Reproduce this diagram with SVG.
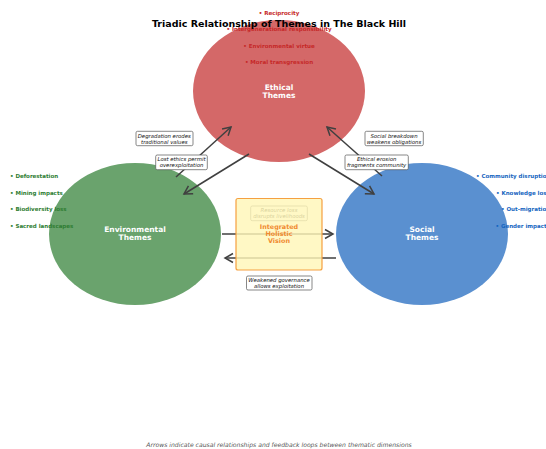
<svg xmlns="http://www.w3.org/2000/svg" width="546" height="449" viewBox="0 0 546 449">
<defs>
<marker id="arr" markerUnits="userSpaceOnUse" markerWidth="12" markerHeight="12" refX="9" refY="5" orient="auto" viewBox="0 0 12 10">
<path d="M1,0.5 L9,5 L1,9.5" fill="none" stroke="#404040" stroke-width="1.5"/>
</marker>
</defs>
<style>
text{font-family:"DejaVu Sans","Liberation Sans",sans-serif}
.title{font-size:9.5px;font-weight:bold;fill:#000;text-anchor:middle}
.nl{font-size:7.5px;font-weight:bold;fill:#fff;text-anchor:middle}
.be{font-size:5.55px;font-weight:bold;fill:#c62828;text-anchor:middle}
.bg{font-size:5.5px;font-weight:bold;fill:#2e7d32}
.bs{font-size:5.5px;font-weight:bold;fill:#1565c0;text-anchor:start}
.lb{fill:#fff;stroke:#555;stroke-width:0.7}
.lt{font-size:5.35px;font-style:italic;fill:#111;text-anchor:middle}
.conn{stroke:#404040;stroke-width:1.5;fill:none}
.foot{font-size:6.1px;font-style:italic;fill:#555;text-anchor:middle}
.iv{font-size:6.4px;font-weight:bold;fill:#f08a30;text-anchor:middle}
</style>
<rect width="546" height="449" fill="#fff"/>
<g id="ethical">
<ellipse cx="279" cy="91" rx="86" ry="71" fill="#d46868"/>
<text class="be" x="279" y="14.5">• Reciprocity</text>
<text class="be" x="279" y="31">• Intergenerational responsibility</text>
<text class="be" x="279" y="47.5">• Environmental virtue</text>
<text class="be" x="279" y="64">• Moral transgression</text>
<text class="nl" x="279" y="89.5">Ethical</text>
<text class="nl" x="279" y="98.3">Themes</text>
</g>
<g id="environmental">
<ellipse cx="135" cy="234" rx="86" ry="71" fill="#6aa36d"/>
<text class="bg" x="10" y="178">• Deforestation</text>
<text class="bg" x="10" y="194.7">• Mining impacts</text>
<text class="bg" x="10" y="211.4">• Biodiversity loss</text>
<text class="bg" x="10" y="228">• Sacred landscapes</text>
<text class="nl" x="135" y="231.5">Environmental</text>
<text class="nl" x="135" y="240.3">Themes</text>
</g>
<g id="social">
<ellipse cx="422" cy="234" rx="86" ry="71" fill="#5a90d0"/>
<text class="bs" x="476" y="178">• Community disruption</text>
<text class="bs" x="496" y="194.7">• Knowledge loss</text>
<text class="bs" x="501" y="211.4">• Out-migration</text>
<text class="bs" x="495.5" y="228">• Gender impacts</text>
<text class="nl" x="422" y="231.5">Social</text>
<text class="nl" x="422" y="240.3">Themes</text>
</g>
<g id="connectors">
<line class="conn" x1="176" y1="177" x2="231" y2="127" marker-end="url(#arr)"/>
<line class="conn" x1="249" y1="154" x2="184" y2="194" marker-end="url(#arr)"/>
<line class="conn" x1="309" y1="154" x2="374" y2="194" marker-end="url(#arr)"/>
<line class="conn" x1="382" y1="176" x2="327" y2="127" marker-end="url(#arr)"/>
<line class="conn" x1="222" y1="234" x2="333" y2="234" marker-end="url(#arr)"/>
<line class="conn" x1="336" y1="258" x2="225" y2="258" marker-end="url(#arr)"/>
<g id="label-degradation">
<rect class="lb" x="136" y="131.3" width="57" height="14.4" rx="1.5"/>
<text class="lt" x="164.3" y="137.5">Degradation erodes</text>
<text class="lt" x="164.3" y="143.6">traditional values</text>
</g>
<g id="label-lost-ethics">
<rect class="lb" x="155.7" y="155" width="51.6" height="14.7" rx="1.5"/>
<text class="lt" x="181.5" y="161.2">Lost ethics permit</text>
<text class="lt" x="181.5" y="167.4">overexploitation</text>
</g>
<g id="label-social-breakdown">
<rect class="lb" x="365" y="131.3" width="58.3" height="14.4" rx="1.5"/>
<text class="lt" x="394" y="137.5">Social breakdown</text>
<text class="lt" x="394" y="143.6">weakens obligations</text>
</g>
<g id="label-ethical-erosion">
<rect class="lb" x="345" y="155" width="63.3" height="14.7" rx="1.5"/>
<text class="lt" x="376.6" y="161.2">Ethical erosion</text>
<text class="lt" x="376.6" y="167.4">fragments community</text>
</g>
<g id="label-resource-loss">
<rect class="lb" x="250.7" y="206" width="56.6" height="14.7" rx="1.5"/>
<text class="lt" x="279" y="212.2">Resource loss</text>
<text class="lt" x="279" y="218.4">disrupts livelihoods</text>
</g>
<g id="label-weakened">
<rect class="lb" x="246.5" y="276" width="65.5" height="14" rx="1.5"/>
<text class="lt" x="279" y="282">Weakened governance</text>
<text class="lt" x="279" y="288.1">allows exploitation</text>
</g>
</g>
<g id="integrated">
<rect x="236" y="198.5" width="86" height="71.5" rx="2" fill="#fff6b8" fill-opacity="0.82" stroke="#f5a040" stroke-width="1.2"/>
<text class="iv" x="279" y="228.5">Integrated</text>
<text class="iv" x="279" y="235.8">Holistic</text>
<text class="iv" x="279" y="243">Vision</text>
</g>
<text class="title" x="279" y="27">Triadic Relationship of Themes in The Black Hill</text>
<text class="foot" x="279" y="447">Arrows indicate causal relationships and feedback loops between thematic dimensions</text>
</svg>
